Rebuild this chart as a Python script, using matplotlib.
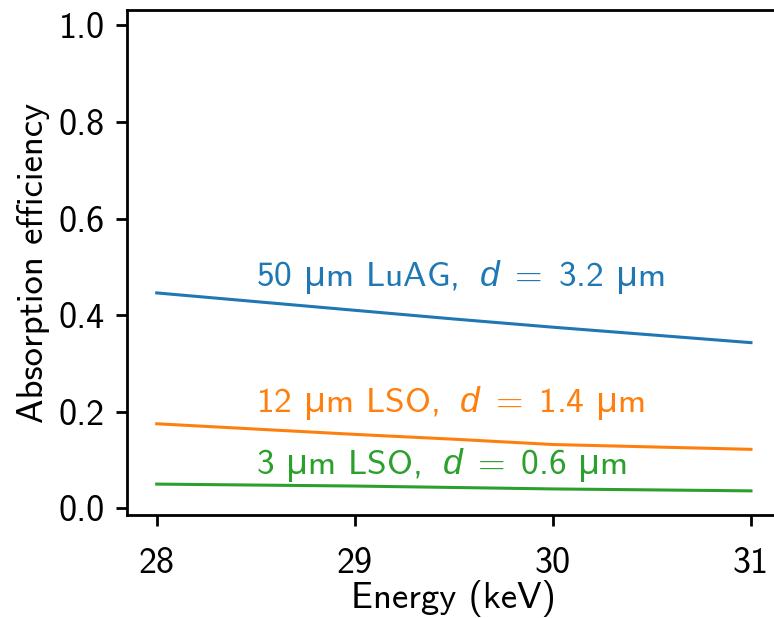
import matplotlib
matplotlib.use("Agg")
import matplotlib.pyplot as plt

energy = [28.0, 28.5, 29.0, 29.5, 30.0, 30.5, 31.0]
luag_50 = [0.446, 0.428, 0.410, 0.392, 0.375, 0.359, 0.343]
lso_12 = [0.175, 0.164, 0.153, 0.143, 0.132, 0.127, 0.122]
lso_3 = [0.050, 0.048, 0.046, 0.043, 0.040, 0.038, 0.036]

labels = [r"50 $\mathsf{µ}$m LuAG, $\;d\ =\ 3.2$ $\mathsf{µ}$m",
          r"12 $\mathsf{µ}$m LSO, $\;d\ =\ 1.4$ $\mathsf{µ}$m",
          r"3 $\mathsf{µ}$m LSO, $\;d\ =\ 0.6$ $\mathsf{µ}$m"]
label_y = [0.46, 0.20, 0.07]
colors = ["#1f77b4", "#ff7f0e", "#2ca02c"]

xticks = [28, 29, 30, 31]
yticks = [0.0, 0.2, 0.4, 0.6, 0.8, 1.0]

plt.rcParams["font.family"] = ["cmss10", "DejaVu Sans"]
plt.rcParams["mathtext.fontset"] = "custom"
plt.rcParams["mathtext.it"] = "Liberation Sans:italic"
plt.rcParams["mathtext.rm"] = "cmss10"
plt.rcParams["mathtext.sf"] = "Noto Sans"
plt.rcParams["axes.unicode_minus"] = False

fig = plt.figure(figsize=(7.74, 6.18), dpi=100)
ax = fig.add_axes([127/774, 1 - 515/618, (780.7 - 127)/774, (515 - 10)/618])

for ys, c in zip([luag_50, lso_12, lso_3], colors):
    ax.plot(energy, ys, color=c, lw=2.2)

for lab, y, c in zip(labels, label_y, colors):
    ax.text(28.5, y, lab, color=c, fontsize=25.5, va="baseline", ha="left")

ax.set_xlim(27.85, 31.15)
ax.set_ylim(-0.014, 1.032)
ax.set_xticks(xticks)
ax.set_xticklabels([str(t) for t in xticks])
ax.set_yticks(yticks)
ax.set_yticklabels([f"{t:.1f}" for t in yticks])
ax.tick_params(labelsize=26, width=2.0, length=8)
ax.tick_params(axis="x", pad=15)
ax.tick_params(axis="y", pad=8)
for s in ax.spines.values():
    s.set_linewidth(2.0)
ax.set_xlabel("Energy (keV)", fontsize=26.5, labelpad=0)
ax.set_ylabel("Absorption efficiency", fontsize=26.5, labelpad=6)

fig.savefig("out.png", dpi=100)
